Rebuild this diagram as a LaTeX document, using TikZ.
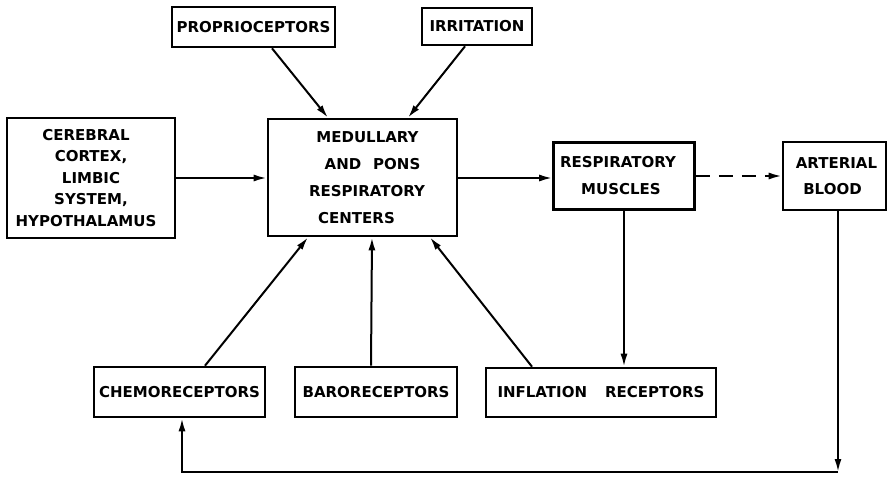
\documentclass[tikz,border=0pt]{standalone}
\usepackage{fontspec}
\newfontfamily\lettering{DejaVu Sans}
\usetikzlibrary{arrows.meta}
\begin{document}
\begin{tikzpicture}[x=1pt,y=-1pt,
  box/.style={draw,line width=2.6pt,inner sep=0pt,align=center,
    font=\lettering\bfseries\fontsize{15}{27}\selectfont},
  tight/.style={font=\lettering\bfseries\fontsize{15}{21.5}\selectfont},
  link/.style={line width=2pt,-{Latex[length=13pt,width=7pt]}},
  dashlink/.style={link,dash pattern=on 14pt off 9pt}
]
\useasboundingbox (0,0) rectangle (887,477);

% boxes
\node[box,minimum width=163pt,minimum height=40pt] (proprio) at (253.5,27) {PROPRIOCEPTORS};
\node[box,minimum width=110pt,minimum height=37pt] (irrit) at (477,26.5) {IRRITATION};
\node[box,tight,minimum width=168pt,minimum height=120pt] (cereb) at (91,178)
  {CEREBRAL\hspace*{10pt}\\CORTEX,\hspace*{8pt}\\LIMBIC\hspace*{22pt}\\SYSTEM,\hspace*{8pt}\\HYPOTHALAMUS\hspace*{10pt}};
\node[box,minimum width=189pt,minimum height=117pt] (medul) at (362.5,177.5)
  {\hspace*{10pt}MEDULLARY\\\hspace*{20pt}AND\hspace{12pt}PONS\\\hspace*{9pt}RESPIRATORY\\CENTERS\hspace*{12pt}};
\node[box,minimum width=141pt,minimum height=67pt] (muscles) at (624,176)
  {RESPIRATORY\hspace*{12pt}\\MUSCLES\hspace*{6pt}};
\node[box,font=\lettering\bfseries\fontsize{15}{26}\selectfont,minimum width=103pt,minimum height=68pt] (art) at (834.5,176)
  {\hspace*{4pt}ARTERIAL\\BLOOD\hspace*{4pt}};
\node[box,minimum width=171pt,minimum height=50pt] (chemo) at (179.5,392) {CHEMORECEPTORS};
\node[box,minimum width=162pt,minimum height=50pt] (baro) at (376,392) {BARORECEPTORS};
\node[box,minimum width=230pt,minimum height=49pt] (infl) at (601,392.5) {INFLATION\hspace{18pt}RECEPTORS};

% inputs to the respiratory centers
\draw[link] ([xshift=18.5pt]proprio.south) -- ([xshift=-34.5pt]medul.north);
\draw[link] ([xshift=-12pt]irrit.south) -- ([xshift=45.5pt]medul.north);
\draw[link] (cereb.east |- 0,178) -- (medul.west |- 0,178);
\draw[link] ([xshift=25.5pt]chemo.north) -- ([xshift=-54.5pt]medul.south);
\draw[link] ([xshift=-5pt]baro.north) -- ([xshift=9.5pt]medul.south);
\draw[link] ([xshift=-69pt]infl.north) -- ([xshift=67.5pt]medul.south);

% outputs
\draw[link] (medul.east |- 0,178) -- (muscles.west |- 0,178);
\draw[dashlink] (muscles.east |- 0,176) -- (art.west |- 0,176);
\draw[link] (muscles.south) -- (muscles.south |- infl.north);

% blood gas feedback loop
\coordinate (artout) at ([xshift=3.5pt]art.south);
\coordinate (bottomrow) at (0,472);
\coordinate (bend) at (artout |- bottomrow);
\coordinate (chemoin) at ([xshift=2.5pt]chemo.south);
\draw[link] (artout) -- (bend);
\draw[link] (bend) -| (chemoin);
\end{tikzpicture}
\end{document}
